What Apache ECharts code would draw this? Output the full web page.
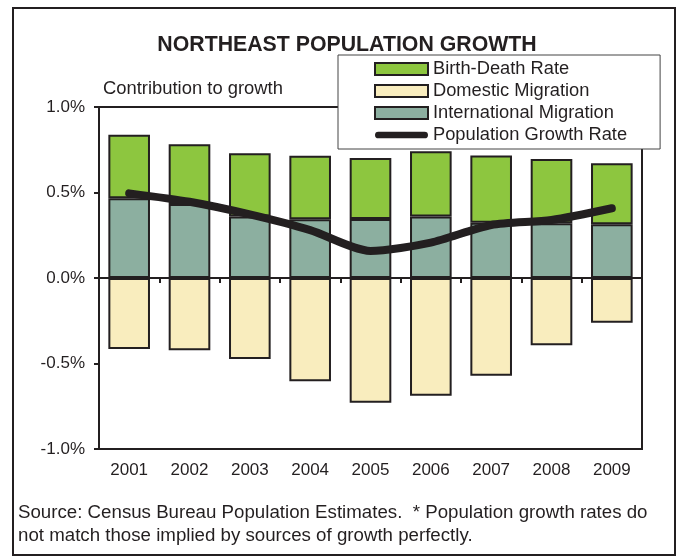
<!DOCTYPE html>
<html>
<head>
<meta charset="utf-8">
<script src="https://cdn.jsdelivr.net/npm/echarts@6/dist/echarts.min.js"></script>
<style>
  html, body { margin: 0; padding: 0; background: #fff; }
  #chart { width: 681px; height: 558px; }
</style>
</head>
<body>
<div id="chart"></div>
<script>
// values in percent
const years = ['2001', '2002', '2003', '2004', '2005', '2006', '2007', '2008', '2009'];
const intlMigration = [0.466, 0.433, 0.359, 0.343, 0.345, 0.359, 0.323, 0.320, 0.314];
const birthDeath = [0.372, 0.349, 0.370, 0.372, 0.357, 0.382, 0.394, 0.376, 0.357];
const domesticMigration = [-0.415, -0.423, -0.474, -0.604, -0.729, -0.688, -0.571, -0.394, -0.261];
const growthRate = [0.495, 0.446, 0.372, 0.28, 0.158, 0.207, 0.31, 0.339, 0.408];
const yTicks = [-1.0, -0.5, 0.0, 0.5, 1.0];

const ink = '#231f20';
const font = 'Liberation Sans, Arial, sans-serif';

const chart = echarts.init(document.getElementById('chart'));

const barStyle = (color) => ({ color: color, borderColor: ink, borderWidth: 2 });

chart.setOption({
    animation: false,
    textStyle: { fontFamily: font },
    title: {
        text: 'NORTHEAST POPULATION GROWTH',
        left: 342,
        textAlign: 'center',
        top: 30,
        textStyle: { fontSize: 21.3, fontWeight: 'bold', color: ink, fontFamily: font }
    },
    graphic: [
        {
            type: 'rect',
            shape: { x: 13, y: 8, width: 662, height: 547 },
            style: { fill: 'none', stroke: ink, lineWidth: 2 },
            z: 0
        },
        {
            type: 'text',
            left: 103,
            top: 80,
            style: { text: 'Contribution to growth', font: '18.4px ' + font, fill: ink }
        },
        {
            type: 'text',
            left: 18,
            top: 501,
            style: {
                text: 'Source: Census Bureau Population Estimates.  * Population growth rates do\nnot match those implied by sources of growth perfectly.',
                font: '18.7px ' + font,
                lineHeight: 23,
                fill: ink
            }
        }
    ],
    legend: {
        orient: 'vertical',
        left: 338,
        top: 55,
        padding: [5, 33, 5, 36],
        backgroundColor: '#fff',
        borderColor: '#444',
        borderWidth: 1,
        itemWidth: 53,
        itemHeight: 12,
        itemGap: 4,
        z: 20,
        textStyle: { fontSize: 18.3, color: ink },
        data: [
            { name: 'Birth-Death Rate', icon: 'rect' },
            { name: 'Domestic Migration', icon: 'rect' },
            { name: 'International Migration', icon: 'rect' },
            {
                name: 'Population Growth Rate',
                icon: 'path://M4,0 L52,0 A3.5,3.5 0 0 1 52,7 L4,7 A3.5,3.5 0 0 1 4,0 Z',
                itemStyle: { color: ink, borderWidth: 0 }
            }
        ]
    },
    grid: {
        left: 99,
        right: 39,
        top: 107,
        bottom: 109,
        show: true,
        borderColor: ink,
        borderWidth: 2,
        containLabel: false
    },
    xAxis: [
        {
            type: 'category',
            data: years,
            position: 'bottom',
            axisLine: { show: false, onZero: false },
            axisTick: { show: false },
            axisLabel: { fontSize: 17, color: ink, margin: 13 }
        },
        {
            type: 'category',
            data: years,
            position: 'bottom',
            axisLine: { show: true, onZero: true, lineStyle: { color: ink, width: 2 } },
            axisTick: { show: true, length: 5, lineStyle: { color: ink, width: 2 } },
            axisLabel: { show: false }
        }
    ],
    yAxis: {
        type: 'value',
        min: yTicks[0],
        max: yTicks[yTicks.length - 1],
        interval: 0.5,
        axisLine: { show: true, lineStyle: { color: ink, width: 2 } },
        axisTick: { show: true, length: 5, lineStyle: { color: ink, width: 2 } },
        splitLine: { show: false },
        axisLabel: {
            fontSize: 17,
            color: ink,
            margin: 14,
            formatter: (v) => v.toFixed(1) + '%'
        }
    },
    series: [
        {
            name: 'International Migration',
            type: 'bar',
            stack: 'total',
            barCategoryGap: '31%',
            data: intlMigration,
            itemStyle: barStyle('#8cafa0')
        },
        {
            name: 'Birth-Death Rate',
            type: 'bar',
            stack: 'total',
            data: birthDeath,
            itemStyle: barStyle('#8dc63f')
        },
        {
            name: 'Domestic Migration',
            type: 'bar',
            stack: 'total',
            data: domesticMigration,
            itemStyle: barStyle('#f9edbe')
        },
        {
            name: 'Population Growth Rate',
            type: 'line',
            data: growthRate,
            smooth: 0.25,
            symbol: 'none',
            z: 10,
            lineStyle: { color: ink, width: 8, cap: 'round', join: 'round' },
            itemStyle: { color: ink }
        }
    ]
});
</script>
</body>
</html>
